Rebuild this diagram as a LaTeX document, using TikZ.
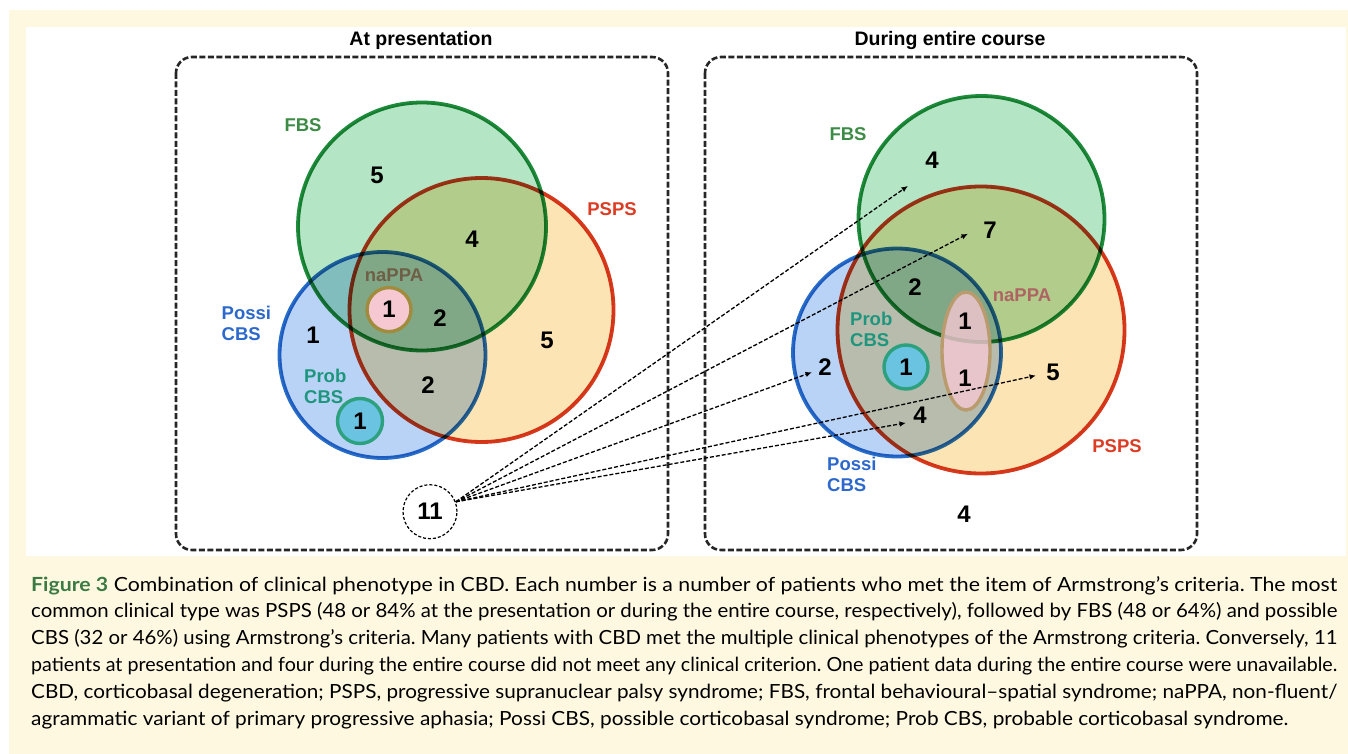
\documentclass[tikz,border=0pt]{standalone}
\usepackage{fontspec}
\setmainfont{Lato}
\newfontfamily\lsans{Liberation Sans}
\usetikzlibrary{shapes.geometric, arrows.meta}
\definecolor{cream}{RGB}{254,248,225}
\definecolor{fbsFill}{RGB}{180,229,197}
\definecolor{fbsDraw}{RGB}{30,140,60}
\definecolor{psFill}{RGB}{253,228,180}
\definecolor{psDraw}{RGB}{214,58,30}
\definecolor{cbFill}{RGB}{185,211,246}
\definecolor{cbDraw}{RGB}{40,110,200}
\definecolor{fbsText}{RGB}{60,140,70}
\definecolor{psText}{RGB}{220,60,35}
\definecolor{cbText}{RGB}{45,105,205}
\definecolor{probText}{RGB}{30,150,125}
\definecolor{napTextL}{RGB}{110,95,70}
\definecolor{napTextR}{RGB}{175,100,100}
\definecolor{napFill}{RGB}{245,200,210}
\definecolor{napDrawL}{RGB}{160,140,60}
\definecolor{napDrawR}{RGB}{185,155,110}
\definecolor{probFill}{RGB}{105,195,225}
\definecolor{probDraw}{RGB}{45,160,125}
\definecolor{figGreen}{RGB}{60,122,68}
\tikzset{
  vennset/.style={circle, inner sep=0pt, line width=3.8pt},
  fbsset/.style={vennset, draw=fbsDraw, fill=fbsFill},
  psset/.style={vennset, draw=psDraw, fill=psFill},
  cbset/.style={vennset, draw=cbDraw, fill=cbFill},
  napset/.style={inner sep=0pt, line width=3.4pt, fill=napFill},
  probset/.style={circle, inner sep=0pt, line width=3.4pt, draw=probDraw, fill=probFill, minimum size=45pt},
  dbox/.style={draw=black!85, line width=2.6pt, dash pattern=on 6pt off 2.5pt, rounded corners=16pt},
  numlab/.style={inner sep=0pt, font=\lsans\bfseries\fontsize{24}{28}\selectfont},
  setlab/.style={inner sep=0pt, font=\lsans\bfseries\fontsize{18.5}{21}\selectfont},
  twolab/.style={setlab, align=left, anchor=west},
  titlelab/.style={inner sep=0pt, font=\lsans\bfseries\fontsize{19.5}{22}\selectfont},
  darrow/.style={line width=1.3pt, dash pattern=on 4pt off 2pt, -{Latex[length=6.5pt,width=5.5pt]}},
  capline/.style={anchor=base west, inner sep=0pt, font=\fontsize{19.5}{26.8}\selectfont\frenchspacing}
}
\newcommand{\capfull}[1]{\resizebox{1306pt}{\height}{#1}}
\begin{document}
\begin{tikzpicture}[x=1pt,y=-1pt]
\useasboundingbox (0,0) rectangle (1348,754);
\fill[white] (0,0) rectangle (1348,754);
\fill[cream] (9,10) rectangle (1348,754);
\fill[white] (26,27) rectangle (1346,556);

% titles and boxes
\node[titlelab] (tL) at (421,40.5) {At presentation};
\node[titlelab] (tR) at (950,40.5) {During entire course};
\draw[dbox] (176,57) rectangle (668,550);
\draw[dbox] (705,57) rectangle (1197,550);

% ---------- left Venn ----------
\begin{scope}[blend group=multiply]
\node[fbsset, minimum size=248pt] (fbsL) at (422,226.5) {};
\node[psset, minimum size=264pt] (psL) at (481.5,310) {};
\node[cbset, minimum size=206pt] (cbL) at (382.5,355) {};
\end{scope}
\node[napset, circle, draw=napDrawL, minimum size=44pt] (napL) at (389,309.6) {};
\node[probset] (probL) at (360,421) {};

\node[setlab, text=fbsText] (lFbsL) at (303,125) {FBS};
\node[setlab, text=psText] (lPsL) at (612,209) {PSPS};
\node[setlab, text=napTextL] (lNapL) at (394,275) {naPPA};
\node[twolab, text=cbText] (lCbL) at (221.5,323.7) {Possi\\CBS};
\node[twolab, text=probText] (lProbL) at (304,386.5) {Prob\\CBS};

\node[numlab] (nL1) at (377,175) {5};
\node[numlab] (nL2) at (472,239) {4};
\node[numlab] (nL3) at (389,309.6) {1};
\node[numlab] (nL4) at (440,318) {2};
\node[numlab] (nL5) at (313,335.5) {1};
\node[numlab] (nL6) at (547,340.6) {5};
\node[numlab] (nL7) at (428,385) {2};
\node[numlab] (nL8) at (360,421) {1};

\node[circle, draw, line width=1.2pt, dash pattern=on 3pt off 2pt, minimum size=54pt, inner sep=0pt] (n11) at (430,511.7) {};
\node[numlab] (t11) at (430,511.7) {11};

% ---------- right Venn ----------
\begin{scope}[blend group=multiply]
\node[fbsset, minimum size=246pt] (fbsR) at (981.5,219) {};
\node[psset, minimum size=287pt] (psR) at (981,330) {};
\node[cbset, minimum size=208pt] (cbR) at (897,352.5) {};
\end{scope}
\node[napset, ellipse, draw=napDrawR, fill opacity=0.8, minimum width=48pt, minimum height=118pt] (napR) at (966,351) {};
\node[probset, minimum size=44pt] (probR) at (906,367) {};

\node[setlab, text=fbsText] (lFbsR) at (848,134.5) {FBS};
\node[setlab, text=psText] (lPsR) at (1117,445.8) {PSPS};
\node[setlab, text=napTextR] (lNapR) at (1022,295) {naPPA};
\node[twolab, text=probText] (lProbR) at (850,329.5) {Prob\\CBS};
\node[twolab, text=cbText] (lCbR) at (827,474.8) {Possi\\CBS};

\node[numlab] (nR1) at (932,160.2) {4};
\node[numlab] (nR2) at (990,230) {7};
\node[numlab] (nR3) at (915,286.7) {2};
\node[numlab] (nR4) at (965,321.7) {1};
\node[numlab] (nR5) at (906,367) {1};
\node[numlab] (nR6) at (965,378) {1};
\node[numlab] (nR7) at (825,367) {2};
\node[numlab] (nR8) at (1053,372) {5};
\node[numlab] (nR9) at (920,415) {4};
\node[numlab] (nR10) at (964,514) {4};

% ---------- arrows ----------
\coordinate (a1) at (908,185.9);
\coordinate (a2) at (968,233.7);
\coordinate (a3) at (812,372.2);
\coordinate (a4) at (1036,375.5);
\coordinate (a5) at (906,422.9);
\foreach \e in {a1,a2,a3,a4,a5}
  \draw[darrow] (n11.21) -- (\e);

% ---------- caption ----------
\node[capline] (cap1) at (31,591) {\capfull{{\color{figGreen}\bfseries Figure 3} Combination of clinical phenotype in CBD. Each number is a number of patients who met the item of Armstrong’s criteria. The most}};
\node[capline] (cap2) at (31,617.8) {\capfull{common clinical type was PSPS (48 or 84\% at the presentation or during the entire course, respectively), followed by FBS (48 or 64\%) and possible}};
\node[capline] (cap3) at (31,644.6) {\capfull{CBS (32 or 46\%) using Armstrong’s criteria. Many patients with CBD met the multiple clinical phenotypes of the Armstrong criteria. Conversely, 11}};
\node[capline] (cap4) at (31,671.4) {\capfull{patients at presentation and four during the entire course did not meet any clinical criterion. One patient data during the entire course were unavailable.}};
\node[capline] (cap5) at (31,698.2) {\capfull{CBD, corticobasal degeneration; PSPS, progressive supranuclear palsy syndrome; FBS, frontal behavioural–spatial syndrome; naPPA, non-fluent/}};
\node[capline] (cap6) at (31,725) {\resizebox{1257pt}{\height}{agrammatic variant of primary progressive aphasia; Possi CBS, possible corticobasal syndrome; Prob CBS, probable corticobasal syndrome.}};
\end{tikzpicture}
\end{document}
